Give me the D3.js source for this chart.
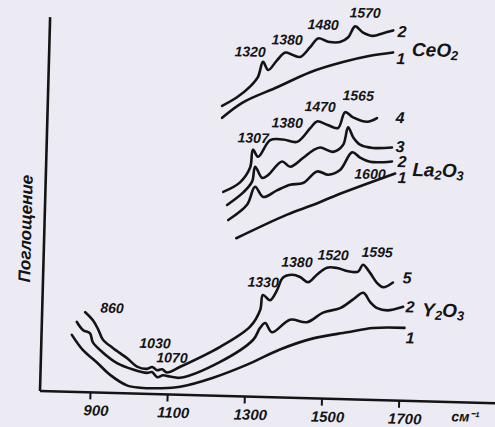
<!DOCTYPE html>
<html><head><meta charset="utf-8">
<script src="https://cdn.jsdelivr.net/npm/d3@7"></script>
<style>
html,body{margin:0;padding:0;background:#ecebf4;}
svg{display:block}
</style></head><body>
<svg id="c" width="495" height="427"></svg>
<script>
// ---- data (wavenumber cm^-1, absorbance in arbitrary units) ----
const xTicks = [900, 1100, 1300, 1500, 1700];

const ceO2_1 = [[1223,278],[1276,294],[1363,310],[1448,326],[1532,337],[1602,344],[1661,348]];
const ceO2_2 = [[1222,290],[1260,299],[1293,310],[1313,320],[1325,335],[1339,327],[1361,337],[1382,345],[1400,343],[1421,341],[1446,351],[1466,360],[1492,357],[1523,357],[1544,362],[1561,373],[1582,367],[1608,364],[1634,367],[1660,370]];

const la2O3_1 = [[1268,158],[1398,183],[1462,193],[1526,204],[1675,227]];
const la2O3_2 = [[1246,176],[1294,192],[1313,210],[1335,200],[1370,207],[1404,213],[1437,215],[1473,227],[1502,224],[1532,229],[1562,247],[1583,242],[1609,238],[1666,239]];
const la2O3_3 = [[1242,191],[1283,204],[1305,215],[1312,230],[1331,219],[1346,222],[1381,236],[1403,231],[1435,240],[1461,248],[1479,251],[1513,247],[1538,254],[1550,272],[1564,262],[1582,255],[1616,252],[1665,253]];
const la2O3_4 = [[1231,204],[1274,214],[1299,229],[1305,247],[1319,240],[1349,257],[1382,258],[1419,256],[1452,270],[1469,277],[1495,274],[1524,271],[1541,287],[1562,282],[1599,278],[1624,282]];

const y2O3_1 = [[849,57],[879,42],[916,30],[951,18],[995,8],[1029,6],[1081,6],[1133,8],[1218,18],[1305,32],[1389,48],[1474,60],[1562,67],[1629,72],[1710,73]];
const y2O3_2 = [[861,70],[878,62],[896,59],[904,50],[931,40],[968,30],[1010,24],[1046,21],[1059,22],[1073,17],[1088,19],[1106,18],[1132,17],[1235,34],[1319,57],[1336,69],[1349,74],[1367,65],[1413,78],[1457,76],[1498,86],[1542,91],[1575,100],[1601,107],[1619,98],[1638,92],[1664,90],[1705,94]];
const y2O3_5 = [[882,80],[903,72],[917,63],[930,53],[956,45],[994,35],[1020,27],[1046,25],[1059,27],[1072,24],[1085,25],[1098,22],[1132,28],[1234,49],[1310,70],[1335,87],[1341,102],[1360,97],[1377,107],[1392,120],[1415,123],[1436,121],[1457,116],[1480,124],[1505,131],[1531,131],[1560,128],[1586,128],[1598,135],[1617,127],[1636,117],[1652,113],[1677,118]];

// peak labels [text, wavenumber, absorbance]
const peakLabels = [
  ["1320",1291,345],["1380",1386,358],["1480",1478,374],["1570",1586,387],
  ["1307",1305,259],["1380",1392,275],["1470",1476,292],["1565",1574,304],["1600",1610,226],
  ["860",951,85],["1030",1065,51],["1070",1110,37],["1330",1341,115],["1380",1427,136],["1520",1520,144],["1595",1634,148]
];
// curve numbers [text, wavenumber, absorbance]
const curveNumbers = [
  ["2",1683,369],["1",1682,342],
  ["4",1684,283],["3",1686,254],["2",1692,239],["1",1693,223],
  ["5",1713,123],["2",1723,94],["1",1725,63]
];
// compound names [base, sub1, mid, sub2, wavenumber, absorbance]
const compounds = [
  ["CeO","2","","",1770,352],
  ["La","2","O","3",1786,232],
  ["Y","2","O","3",1809,92]
];
const yLabel = "Поглощение";
const xUnit = "см⁻¹";

// ---- drawing ----
const W = 495, H = 427;
const svg = d3.select('#c');
svg.append('rect').attr('width',W).attr('height',H).attr('fill','#ecebf4');

const g = svg.append('g').attr('transform','rotate(1.55,40,391)');
const x = d3.scaleLinear().domain([900,1700]).range([90,398.8]);
const y = d3.scaleLinear().domain([0,380]).range([391,11]);
const ink = '#141414';
const font = '"Liberation Sans",Arial,sans-serif';

// axes
g.append('line').attr('x1',40).attr('x2',520).attr('y1',y(0)).attr('y2',y(0))
  .attr('stroke',ink).attr('stroke-width',2.6);
g.append('line').attr('x1',40).attr('x2',40).attr('y1',y(0)).attr('y2',y(374))
  .attr('stroke',ink).attr('stroke-width',2.6);

const ax = g.append('g').attr('transform',`translate(0,${y(0)})`)
  .call(d3.axisBottom(x).tickValues(xTicks).tickSize(7).tickSizeOuter(0).tickFormat(d3.format('d')));
ax.select('.domain').remove();
ax.selectAll('.tick line').attr('stroke',ink).attr('stroke-width',2);
ax.selectAll('.tick text').attr('fill',ink).attr('x',6).attr('y',12.5)
  .style('font-family',font).style('font-style','italic').style('font-weight','bold').style('font-size','15px');

g.append('text').attr('x',452).attr('y',y(0)+19).attr('fill',ink)
  .style('font-family',font).style('font-style','italic').style('font-weight','bold').style('font-size','14px')
  .text(xUnit);

g.append('text').attr('transform',`translate(27,${229}) rotate(-90)`).attr('text-anchor','middle')
  .attr('fill',ink).style('font-family',font).style('font-style','italic').style('font-weight','bold').style('font-size','17px')
  .text(yLabel);

// curves
const line = d3.line().x(d=>x(d[0])).y(d=>y(d[1])).curve(d3.curveCatmullRom.alpha(0.5));
const curves = [ceO2_1, ceO2_2, la2O3_1, la2O3_2, la2O3_3, la2O3_4, y2O3_1, y2O3_2, y2O3_5];
g.selectAll('path.curve').data(curves).enter().append('path').attr('class','curve')
  .attr('d',line).attr('fill','none').attr('stroke',ink).attr('stroke-width',2.6)
  .attr('stroke-linejoin','round').attr('stroke-linecap','round');

// labels
g.selectAll('text.peak').data(peakLabels).enter().append('text').attr('class','peak')
  .attr('x',d=>x(d[1])).attr('y',d=>y(d[2])).attr('text-anchor','middle').attr('dominant-baseline','central')
  .attr('fill',ink).style('font-family',font).style('font-style','italic').style('font-weight','bold').style('font-size','14px')
  .text(d=>d[0]);

g.selectAll('text.num').data(curveNumbers).enter().append('text').attr('class','num')
  .attr('x',d=>x(d[1])).attr('y',d=>y(d[2])).attr('text-anchor','middle').attr('dominant-baseline','central')
  .attr('fill',ink).style('font-family',font).style('font-style','italic').style('font-weight','bold').style('font-size','16px')
  .text(d=>d[0]);

const ct = g.selectAll('text.cmp').data(compounds).enter().append('text').attr('class','cmp')
  .attr('x',d=>x(d[4])).attr('y',d=>y(d[5])).attr('text-anchor','middle').attr('dominant-baseline','central')
  .attr('fill',ink).style('font-family',font).style('font-style','italic').style('font-weight','bold').style('font-size','19px');
ct.each(function(d){
  const t = d3.select(this);
  t.append('tspan').text(d[0]);
  t.append('tspan').attr('dy',5).style('font-size','13px').text(d[1]);
  if (d[2]) {
    t.append('tspan').attr('dy',-5).text(d[2]);
    t.append('tspan').attr('dy',5).style('font-size','13px').text(d[3]);
  }
});
</script>
</body></html>
